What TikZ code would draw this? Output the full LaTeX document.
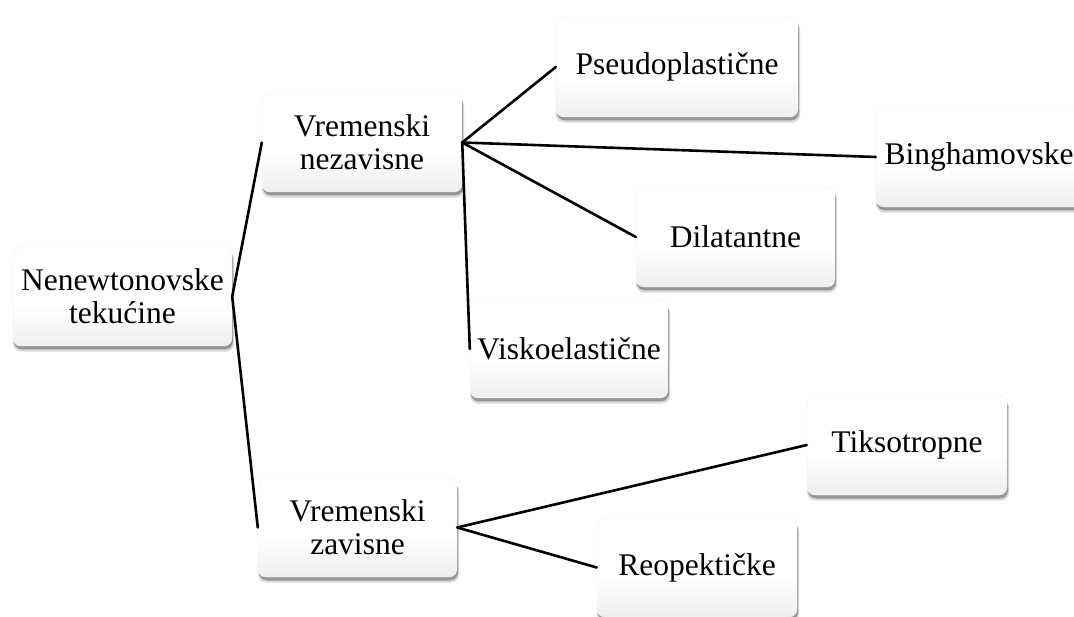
\documentclass[tikz,border=0pt]{standalone}
\usepackage{fontspec}
\setmainfont{Liberation Serif}
\usetikzlibrary{shadows}
\pgfdeclareverticalshading{boxshade}{100bp}{color(0bp)=(black!14); color(8bp)=(black!12); color(45bp)=(white); color(100bp)=(white)}
\tikzset{
  box/.style={rounded corners=8pt, inner sep=0pt, align=center,
    minimum height=99pt,
    font=\fontsize{31.5}{33}\selectfont,
    shading=boxshade,
    draw=black!5, line width=0.4pt,
    general shadow={shadow xshift=1pt, shadow yshift=-5pt, opacity=0.15, fill=black, shadow scale=1.01},
    general shadow={shadow xshift=1pt, shadow yshift=-3.5pt, opacity=0.4, fill=black!80}},
  conn/.style={line width=2.6pt, black, line cap=round, line join=round}
}
\begin{document}
\begin{tikzpicture}[x=1pt,y=-1pt]
\useasboundingbox (0,0) rectangle (1074,617);
\node[box, minimum width=219pt] (nt) at (122.5,296.5) {Nenewtonovske\\tekućine};
\node[box, minimum width=200pt] (vn) at (362,142.5) {Vremenski\\nezavisne};
\node[box, minimum width=199pt] (vz) at (357.5,527.5) {Vremenski\\zavisne};
\node[box, minimum width=242pt, minimum height=100pt] (ps) at (677,67) {Pseudoplastične};
\node[box, minimum width=206pt, minimum height=100pt] (bi) at (979,157) {Binghamovske};
\node[box, minimum width=199pt, minimum height=100pt] (di) at (735.5,237) {Dilatantne};
\node[box, minimum width=198pt, minimum height=98pt] (vi) at (569,349) {Viskoelastične};
\node[box, minimum width=200pt, minimum height=100pt] (ti) at (907,445) {Tiksotropne};
\node[box, minimum width=200pt] (re) at (697,567.5) {Reopektičke};
\draw[conn] (vn.west) -- (nt.east) -- (vz.west);
\draw[conn] (vn.east) -- (ps.west);
\draw[conn] (vn.east) -- (bi.west);
\draw[conn] (vn.east) -- (di.west);
\draw[conn] (vn.east) -- (vi.west);
\draw[conn] (vz.east) -- (ti.west);
\draw[conn] (vz.east) -- (re.west);
\end{tikzpicture}
\end{document}
